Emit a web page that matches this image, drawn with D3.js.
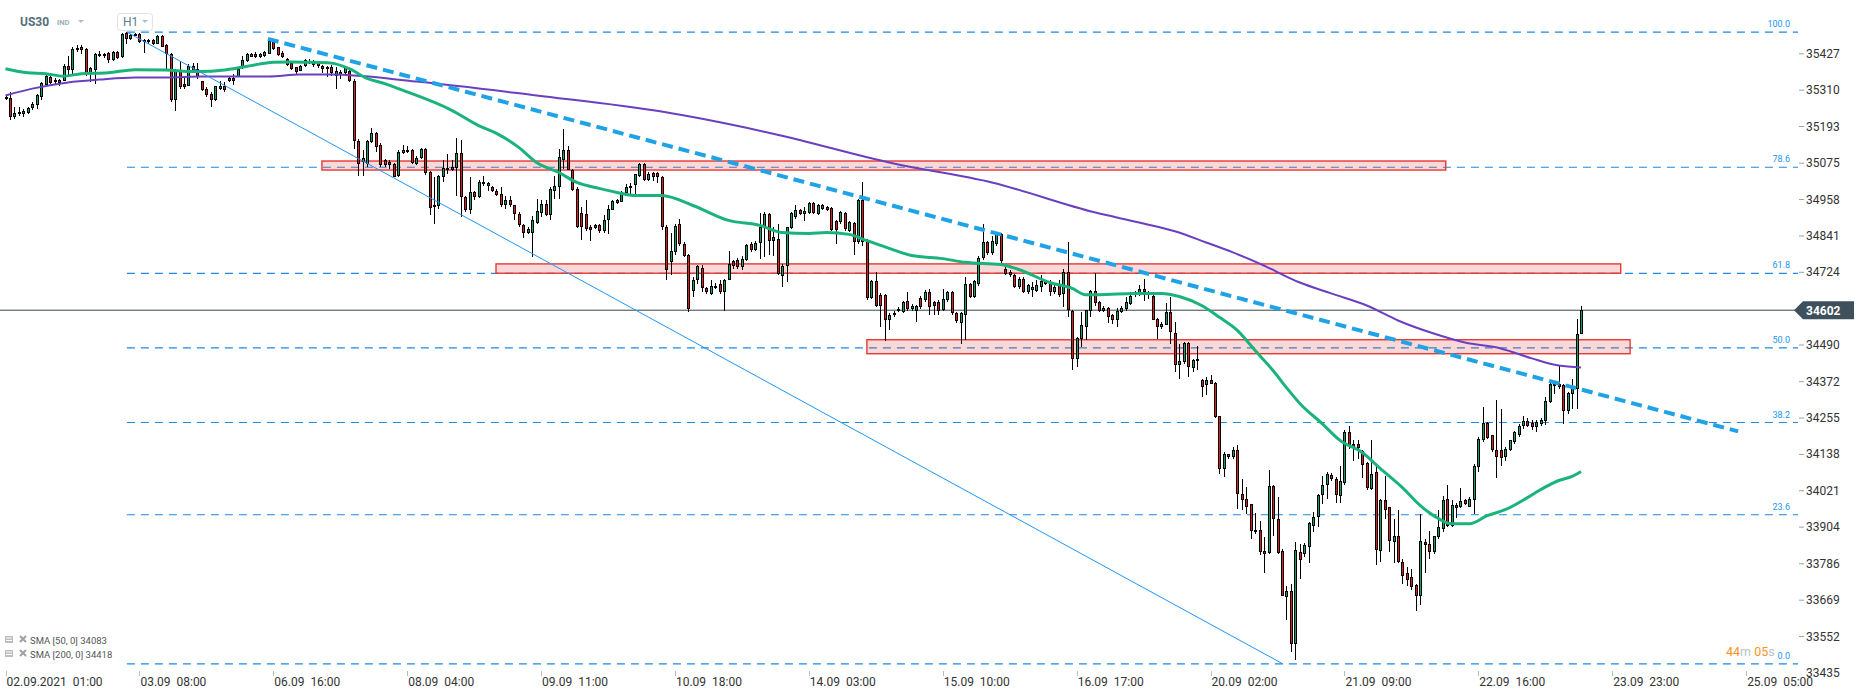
<!DOCTYPE html>
<html>
<head>
<meta charset="utf-8">
<script src="https://cdn.jsdelivr.net/npm/d3@7"></script>
<style>
body { margin: 0; background: #fff; }
svg { display: block; font-family: Roboto, "Noto Sans", sans-serif; }
</style>
</head>
<body>
<script>
// hourly candles, [open, high, low, close]
var ohlc = [
[35281,35292,35279,35287],[35285,35304,35214,35223],[35225,35257,35218,35237],[35241,35257,35228,35234],[35232,35250,35223,35244],[35237,35257,35234,35253],[35253,35271,35247,35266],[35261,35298,35250,35296],[35289,35336,35279,35333],[35327,35364,35325,35357],
[35352,35357,35330,35334],[35343,35349,35328,35336],[35343,35346,35325,35334],[35341,35395,35341,35389],[35389,35421,35357,35375],[35375,35450,35362,35443],[35446,35454,35432,35440],[35448,35454,35427,35440],[35443,35446,35357,35362],[35364,35386,35336,35382],
[35376,35429,35330,35427],[35427,35435,35416,35419],[35419,35430,35413,35427],[35429,35432,35397,35407],[35407,35435,35405,35432],[35432,35435,35411,35414],[35416,35493,35414,35491],[35493,35497,35459,35475],[35475,35491,35470,35486],[35486,35493,35483,35491],
[35491,35493,35461,35464],[35464,35475,35429,35472],[35472,35475,35459,35464],[35470,35475,35454,35459],[35459,35486,35457,35483],[35483,35486,35448,35450],[35454,35459,35378,35427],[35427,35429,35271,35279],[35277,35378,35244,35375],[35375,35403,35314,35320],
[35330,35352,35314,35320],[35325,35395,35322,35389],[35389,35397,35368,35373],[35378,35397,35346,35352],[35338,35341,35307,35309],[35314,35320,35287,35293],[35298,35303,35257,35279],[35277,35325,35274,35322],[35314,35341,35309,35322],[35322,35336,35303,35309],
[35339,35357,35336,35350],[35350,35362,35328,35341],[35352,35384,35352,35378],[35382,35421,35378,35407],[35403,35429,35400,35427],[35418,35429,35416,35427],[35425,35432,35414,35418],[35416,35429,35414,35427],[35421,35437,35418,35434],[35427,35472,35425,35468],
[35464,35468,35440,35443],[35448,35450,35420,35424],[35429,35435,35414,35418],[35411,35414,35389,35392],[35397,35400,35375,35378],[35384,35386,35362,35370],[35373,35392,35371,35389],[35389,35411,35386,35407],[35397,35411,35395,35405],[35405,35407,35386,35392],
[35397,35403,35382,35387],[35389,35392,35364,35378],[35384,35389,35352,35378],[35384,35392,35357,35365],[35357,35384,35314,35371],[35370,35376,35346,35360],[35365,35389,35357,35384],[35371,35376,35336,35341],[35341,35346,35121,35148],[35148,35153,35035,35073],
[35078,35116,35035,35092],[35073,35150,35062,35148],[35143,35189,35140,35172],[35172,35175,35111,35127],[35132,35140,35062,35068],[35084,35089,35062,35068],[35078,35084,35057,35068],[35073,35075,35030,35032],[35035,35116,35030,35111],[35107,35132,35105,35118],
[35118,35129,35107,35111],[35116,35121,35073,35076],[35073,35097,35068,35092],[35092,35124,35089,35121],[35121,35124,35038,35043],[35046,35049,34907,34930],[34934,35030,34880,34941],[34936,35038,34928,35035],[35030,35084,35014,35060],[35054,35105,35041,35060],
[35062,35084,35051,35054],[35060,35156,34971,35107],[35107,35150,34902,34966],[34966,34971,34917,34923],[34923,35030,34912,34982],[34982,34987,34957,34966],[34966,35020,34964,35014],[35016,35035,35003,35009],[35003,35014,34987,35011],[35000,35003,34982,34984],
[34987,34993,34968,34973],[34976,35000,34934,34939],[34939,34968,34928,34957],[34955,34968,34934,34942],[34941,34942,34891,34910],[34912,34917,34869,34875],[34877,34880,34835,34851],[34850,34869,34846,34864],[34850,34904,34773,34891],[34882,34960,34880,34920],
[34914,34955,34901,34944],[34944,34955,34904,34907],[34907,34998,34891,34993],[34987,35035,34960,35003],[35000,35121,34960,35094],[35084,35186,35057,35118],[35118,35129,35052,35054],[35054,35057,34987,34989],[34993,34998,34867,34869],[34914,34933,34828,34869],
[34912,34955,34858,34864],[34871,34875,34826,34861],[34867,34880,34864,34875],[34875,34880,34850,34858],[34858,34907,34850,34893],[34891,34939,34848,34928],[34925,34957,34923,34953],[34948,34960,34944,34955],[34950,34987,34950,34982],[34979,35009,34976,35000],
[34996,35011,34976,35003],[35006,35041,34976,35039],[35035,35075,35030,35071],[35071,35075,35019,35021],[35021,35046,35017,35041],[35044,35046,35019,35030],[35043,35046,35011,35030],[35030,35035,34860,34869],[34869,34875,34700,34730],[34756,34850,34715,34794],
[34789,34880,34780,34874],[34880,34896,34810,34816],[34816,34820,34773,34778],[34781,34784,34597,34606],[34665,34708,34644,34698],[34698,34746,34687,34743],[34738,34746,34660,34674],[34674,34676,34654,34660],[34655,34700,34650,34681],[34674,34690,34670,34681],
[34685,34700,34655,34662],[34662,34703,34599,34700],[34700,34792,34698,34751],[34759,34764,34735,34743],[34762,34770,34735,34740],[34740,34775,34732,34767],[34764,34816,34760,34813],[34816,34820,34790,34796],[34796,34825,34792,34818],[34818,34914,34767,34869],
[34869,34917,34772,34912],[34910,34915,34780,34826],[34824,34869,34778,34837],[34832,34880,34714,34717],[34713,34751,34678,34743],[34743,34871,34692,34869],[34867,34918,34864,34915],[34901,34939,34896,34925],[34923,34928,34907,34912],[34912,34934,34890,34920],
[34914,34950,34912,34946],[34946,34950,34910,34914],[34912,34944,34907,34939],[34939,34944,34923,34928],[34933,34936,34920,34925],[34931,34933,34856,34860],[34890,34893,34815,34860],[34885,34920,34880,34917],[34915,34918,34858,34864],[34858,34890,34854,34885],
[34882,34885,34781,34821],[34821,34960,34816,34957],[34957,35014,34810,34821],[34826,34830,34636,34642],[34642,34700,34638,34695],[34695,34724,34612,34614],[34652,34656,34547,34614],[34651,34655,34504,34569],[34571,34593,34539,34588],[34585,34598,34580,34592],
[34599,34612,34596,34606],[34596,34633,34594,34628],[34631,34660,34601,34606],[34606,34623,34599,34617],[34599,34620,34563,34614],[34642,34647,34607,34612],[34635,34668,34628,34660],[34660,34670,34585,34612],[34628,34632,34588,34614],[34628,34635,34585,34601],
[34603,34670,34600,34639],[34635,34665,34630,34660],[34660,34665,34588,34592],[34592,34596,34560,34567],[34560,34596,34494,34592],[34585,34708,34507,34685],[34685,34690,34640,34646],[34646,34700,34640,34695],[34687,34775,34680,34770],[34770,34880,34762,34821],
[34821,34826,34780,34785],[34785,34840,34780,34826],[34815,34855,34810,34848],[34848,34852,34755,34760],[34735,34741,34714,34717],[34724,34730,34708,34714],[34714,34719,34674,34676],[34676,34708,34671,34703],[34703,34708,34658,34660],[34660,34687,34655,34682],
[34668,34692,34644,34678],[34665,34698,34660,34682],[34676,34714,34660,34695],[34695,34700,34682,34687],[34692,34698,34649,34660],[34660,34684,34655,34678],[34682,34698,34644,34652],[34655,34735,34612,34724],[34724,34821,34580,34603],[34601,34603,34408,34446],
[34446,34515,34419,34513],[34510,34596,34483,34556],[34547,34603,34507,34603],[34601,34668,34580,34665],[34665,34721,34617,34625],[34628,34633,34596,34601],[34599,34614,34596,34610],[34610,34612,34560,34580],[34585,34590,34558,34571],[34571,34610,34547,34599],
[34596,34614,34592,34610],[34606,34644,34601,34628],[34623,34660,34620,34649],[34653,34665,34644,34660],[34657,34682,34649,34671],[34671,34703,34633,34660],[34662,34665,34639,34657],[34649,34655,34569,34571],[34574,34577,34510,34547],[34547,34564,34542,34558],
[34556,34625,34553,34596],[34596,34644,34494,34531],[34528,34564,34403,34427],[34427,34492,34381,34438],[34435,34499,34430,34497],[34496,34499,34387,34419],[34417,34446,34403,34442],[34437,34488,34408,34446],[34378,34381,34322,34354],[34360,34387,34328,34378],
[34378,34395,34363,34365],[34368,34370,34255,34258],[34261,34263,34076,34092],[34092,34145,34065,34140],[34138,34140,34124,34129],[34129,34161,34124,34151],[34151,34167,33963,34011],[34011,34059,33958,33990],[33994,34033,33947,33970],[33977,33979,33866,33893],
[33888,33949,33882,33895],[33895,33925,33813,33824],[33826,33872,33756,33818],[33820,34088,33818,34035],[34035,34038,33877,33931],[33931,34000,33818,33820],[33827,33834,33681,33684],[33679,33716,33606,33698],[33698,33720,33502,33529],[33529,33856,33475,33829],
[33824,33850,33738,33797],[33818,33852,33807,33845],[33840,33920,33788,33917],[33909,33952,33888,33938],[33936,34011,33906,34006],[34006,34070,33979,34041],[34038,34081,33995,34076],[34073,34078,34054,34060],[34060,34065,33981,34006],[34003,34102,33981,34051],
[34046,34215,34038,34210],[34210,34231,34156,34164],[34172,34183,34118,34161],[34172,34185,34124,34159],[34148,34151,34063,34105],[34110,34113,34022,34031],[34027,34183,34022,34076],[34081,34097,33781,33829],[33827,33995,33791,33990],[33990,34070,33931,33958],
[33968,33970,33823,33858],[33856,33931,33788,33877],[33877,33958,33788,33791],[33793,33802,33721,33748],[33757,33775,33716,33734],[33743,33770,33702,33711],[33718,33722,33634,33684],[33683,33947,33655,33859],[33856,33866,33756,33847],[33850,33893,33802,33823],
[33823,33877,33818,33874],[33872,33958,33866,33906],[33899,34003,33888,33992],[33995,34041,33906,33909],[33909,33990,33904,33974],[33974,33981,33934,33966],[33968,34030,33966,33988],[33990,33995,33974,33977],[33970,34000,33968,33995],[33990,34108,33947,34102],
[34097,34194,34081,34188],[34183,34292,34177,34239],[34239,34242,34188,34191],[34199,34202,34145,34151],[34151,34314,34063,34129],[34151,34285,34102,34127],[34129,34161,34118,34156],[34153,34185,34150,34183],[34177,34213,34172,34210],[34199,34236,34194,34231],
[34228,34263,34220,34245],[34247,34256,34226,34231],[34239,34249,34215,34226],[34226,34249,34210,34242],[34236,34256,34231,34249],[34247,34322,34234,34311],[34306,34367,34303,34363],[34357,34367,34333,34363],[34363,34424,34349,34354],[34360,34365,34236,34279],
[34279,34338,34269,34335],[34331,34381,34285,34352],[34349,34574,34285,34526],[34526,34614,34524,34602]
];

// moving averages: [bar index, value]
var sma50 = [[0,35379],[5,35366],[9,35363],[13,35355],[17,35363],[23,35366],[29,35376],[36,35375],[41,35370],[46,35371],[51,35379],[55,35389],[60,35400],[64,35401],[68,35400],[73,35397],[77,35379],[81,35348],[85,35331],[88,35315],[100,35245],[106,35196],[110,35171],[115,35126],[119,35077],[124,35045],[128,35013],[133,34994],[137,34981],[141,34971],[147,34971],[154,34939],[162,34891],[169,34875],[174,34852],[180,34849],[184,34852],[189,34846],[193,34826],[198,34801],[203,34778],[210,34768],[215,34756],[223,34749],[227,34733],[234,34691],[239,34672],[242,34652],[245,34652],[253,34656],[259,34656],[263,34646],[268,34617],[272,34579],[276,34537],[280,34472],[284,34408],[287,34353],[290,34302],[295,34237],[299,34183],[304,34144],[308,34093],[313,34031],[317,33973],[320,33941],[324,33915],[328,33915],[332,33941],[336,33960],[341,33999],[344,34025],[348,34054],[351,34067],[353,34083]];
var sma200 = [[0,35293],[6,35315],[14,35335],[21,35344],[29,35351],[36,35351],[44,35354],[51,35354],[59,35354],[66,35360],[73,35360],[92,35338],[119,35293],[147,35241],[172,35170],[199,35074],[221,35013],[244,34917],[254,34884],[262,34856],[269,34820],[275,34788],[281,34752],[290,34691],[297,34656],[305,34617],[312,34569],[320,34527],[327,34498],[335,34479],[342,34447],[348,34424],[353,34418]];

var yTicks = [35427,35310,35193,35075,34958,34841,34724,34490,34372,34255,34138,34021,33904,33786,33669,33552];
var xTickIdx = [0,30,60,90,120,150,180,210,240,270,300,330,360,390];
var xTickLabels = ["02.09.2021  01:00","03.09  08:00","06.09  16:00","08.09  04:00","09.09  11:00","10.09  18:00","14.09  03:00","15.09  10:00","16.09  17:00","20.09  02:00","21.09  09:00","22.09  16:00","23.09  23:00","25.09  05:00"];

var fibLevels = [100, 78.6, 61.8, 50, 38.2, 23.6, 0];
var fibHigh = 35497, fibLow = 33464, fibStart = 27.2;
// zones: [from bar, to bar, top price, bottom price]
var zones = [[70.9,322.7,35082,35053],[109.9,361.9,34751,34721],[193,364,34507,34462]];
var thinLine = [[27.2,35497],[286.2,33464]];
var trendLine = [[58.8,35475],[388.2,34212]];
var lastPrice = 34602;

var W = 1866, H = 698, plotRight = 1798;
var x = d3.scaleLinear().domain([0, 353]).range([5.5, 1581]);
var y = d3.scaleLinear().domain([33435, 35427]).range([672.9, 53.8]);

var svg = d3.select("body").append("svg")
  .attr("width", W)
  .attr("height", H);

svg.append("defs").append("clipPath").attr("id", "plot")
  .append("rect").attr("x", 0).attr("y", 0).attr("width", plotRight).attr("height", H);

var plot = svg.append("g").attr("clip-path", "url(#plot)");

// fibonacci levels
fibLevels.forEach(function(l) {
  var p = fibLow + (fibHigh - fibLow) * l / 100;
  plot.append("line")
    .attr("x1", x(fibStart)).attr("x2", plotRight)
    .attr("y1", y(p)).attr("y2", y(p))
    .attr("stroke", "#1e88e5").attr("stroke-width", 1.2)
    .attr("stroke-dasharray", "8,6");
  svg.append("text")
    .attr("x", 1790).attr("y", y(p) - 5)
    .attr("text-anchor", "end")
    .attr("font-size", 9).attr("fill", "#2196f3")
    .text(l.toFixed(1));
});

// zones
plot.selectAll("rect.zone").data(zones).join("rect")
  .attr("class", "zone")
  .attr("x", function(d) { return x(d[0]); })
  .attr("y", function(d) { return y(d[2]); })
  .attr("width", function(d) { return x(d[1]) - x(d[0]); })
  .attr("height", function(d) { return y(d[3]) - y(d[2]); })
  .attr("fill", "rgba(230,60,60,0.2)")
  .attr("stroke", "#e53935").attr("stroke-width", 1.4);

// last price line
plot.append("line")
  .attr("x1", 0).attr("x2", plotRight)
  .attr("y1", y(lastPrice)).attr("y2", y(lastPrice))
  .attr("stroke", "#37474f").attr("stroke-width", 1);

// candles
var cg = plot.append("g").attr("shape-rendering", "crispEdges")
  .selectAll("g").data(ohlc).join("g");

cg.append("line")
  .attr("x1", function(d, i) { return Math.round(x(i)) + 0.5; })
  .attr("x2", function(d, i) { return Math.round(x(i)) + 0.5; })
  .attr("y1", function(d) { return Math.round(y(d[1])); })
  .attr("y2", function(d) { return Math.round(y(d[2])); })
  .attr("stroke", "#000").attr("stroke-width", 1);

cg.append("rect")
  .attr("x", function(d, i) { return Math.round(x(i)) - 1; })
  .attr("y", function(d) { return Math.round(y(Math.max(d[0], d[3]))); })
  .attr("width", 3)
  .attr("height", function(d) { return Math.max(2, Math.round(y(Math.min(d[0], d[3]))) - Math.round(y(Math.max(d[0], d[3])))); })
  .attr("fill", "#000");

cg.append("rect")
  .attr("x", function(d, i) { return Math.round(x(i)); })
  .attr("y", function(d) { return Math.round(y(Math.max(d[0], d[3]))) + 1; })
  .attr("width", 1)
  .attr("height", function(d) { return Math.max(0, Math.round(y(Math.min(d[0], d[3]))) - Math.round(y(Math.max(d[0], d[3]))) - 2); })
  .attr("fill", function(d) { return d[3] >= d[0] ? "#11a06a" : "#e01b1b"; });

// moving averages
var maLine = d3.line()
  .x(function(d) { return x(d[0]); })
  .y(function(d) { return y(d[1]); })
  .curve(d3.curveMonotoneX);

plot.append("path").attr("d", maLine(sma200))
  .attr("fill", "none").attr("stroke", "#6a3fc0").attr("stroke-width", 2);
plot.append("path").attr("d", maLine(sma50))
  .attr("fill", "none").attr("stroke", "#19b37b").attr("stroke-width", 3);

// trend lines
var tl = d3.line().x(function(d) { return x(d[0]); }).y(function(d) { return y(d[1]); });
plot.append("path").attr("d", tl(thinLine))
  .attr("fill", "none").attr("stroke", "#2196f3").attr("stroke-width", 1);
plot.append("path").attr("d", tl(trendLine))
  .attr("fill", "none").attr("stroke", "#1fa2e6").attr("stroke-width", 4)
  .attr("stroke-dasharray", "11,6");

// y axis
var ya = svg.append("g");
yTicks.forEach(function(t) {
  ya.append("line").attr("x1", 1799).attr("x2", 1804)
    .attr("y1", y(t)).attr("y2", y(t))
    .attr("stroke", "#90a4ae");
  ya.append("text").attr("x", 1806).attr("y", y(t) + 4)
    .attr("font-size", 12).attr("fill", "#333").text(t);
});
ya.append("text").attr("x", 1806).attr("y", y(33435) + 4)
  .attr("font-size", 12).attr("fill", "#333").text(33435);

// last price marker
var ly = y(lastPrice);
svg.append("path")
  .attr("d", "M1794," + ly + " L1803," + (ly - 9) + " L1854," + (ly - 9) + " L1854," + (ly + 9) + " L1803," + (ly + 9) + " Z")
  .attr("fill", "#3d505c");
svg.append("text").attr("x", 1806).attr("y", ly + 4.5)
  .attr("font-size", 12).attr("font-weight", "bold").attr("fill", "#fff").text(lastPrice);

// x axis
xTickIdx.forEach(function(t, k) {
  svg.append("line").attr("x1", Math.round(x(t)) + 0.5).attr("x2", Math.round(x(t)) + 0.5)
    .attr("y1", 671).attr("y2", 676).attr("stroke", "#b0bec5");
  svg.append("text").attr("x", x(t) + 1).attr("y", 686)
    .attr("font-size", 12).attr("fill", "#333")
    .style("white-space", "pre").text(xTickLabels[k]);
});

// header
svg.append("text").attr("x", 20).attr("y", 26).attr("font-size", 12).attr("font-weight", "bold").attr("fill", "#546e7a").text("US30");
svg.append("text").attr("x", 57).attr("y", 25).attr("font-size", 7.5).attr("font-weight", "bold").attr("fill", "#a0aeb6").text("IND");
svg.append("path").attr("d", "M78,20 L84,20 L81,23 Z").attr("fill", "#b0bec5");
svg.append("rect").attr("x", 117.5).attr("y", 13.5).attr("width", 35).attr("height", 17).attr("rx", 3)
  .attr("fill", "#fff").attr("stroke", "#dde3e7");
svg.append("text").attr("x", 123).attr("y", 26).attr("font-size", 12).attr("fill", "#607d8b").text("H1");
svg.append("path").attr("d", "M142,20 L148,20 L145,23 Z").attr("fill", "#b0bec5");

// legend
[["SMA [50, 0] 34083", 644], ["SMA [200, 0] 34418", 658]].forEach(function(r) {
  var yy = r[1];
  svg.append("rect").attr("x", 5).attr("y", yy - 8).attr("width", 8).attr("height", 7).attr("fill", "#bdbdbd");
  svg.append("line").attr("x1", 6).attr("x2", 12).attr("y1", yy - 6).attr("y2", yy - 6).attr("stroke", "#fff");
  svg.append("line").attr("x1", 6).attr("x2", 12).attr("y1", yy - 3.5).attr("y2", yy - 3.5).attr("stroke", "#fff");
  svg.append("path").attr("d", "M20," + (yy - 8) + " L26," + (yy - 2) + " M26," + (yy - 8) + " L20," + (yy - 2))
    .attr("stroke", "#a0a0a0").attr("stroke-width", 2);
  svg.append("text").attr("x", 30).attr("y", yy).attr("font-size", 9.5).attr("fill", "#555").text(r[0]);
});

// countdown (kept clear of the 0.0 level label)
var cd = svg.append("text").attr("x", 1726).attr("y", 656).attr("font-size", 12.5);
cd.append("tspan").attr("fill", "#f7941d").text("44");
cd.append("tspan").attr("fill", "#b8c2c8").text("m ");
cd.append("tspan").attr("fill", "#f7941d").text("05");
cd.append("tspan").attr("fill", "#b8c2c8").text("s");
</script>
</body>
</html>
